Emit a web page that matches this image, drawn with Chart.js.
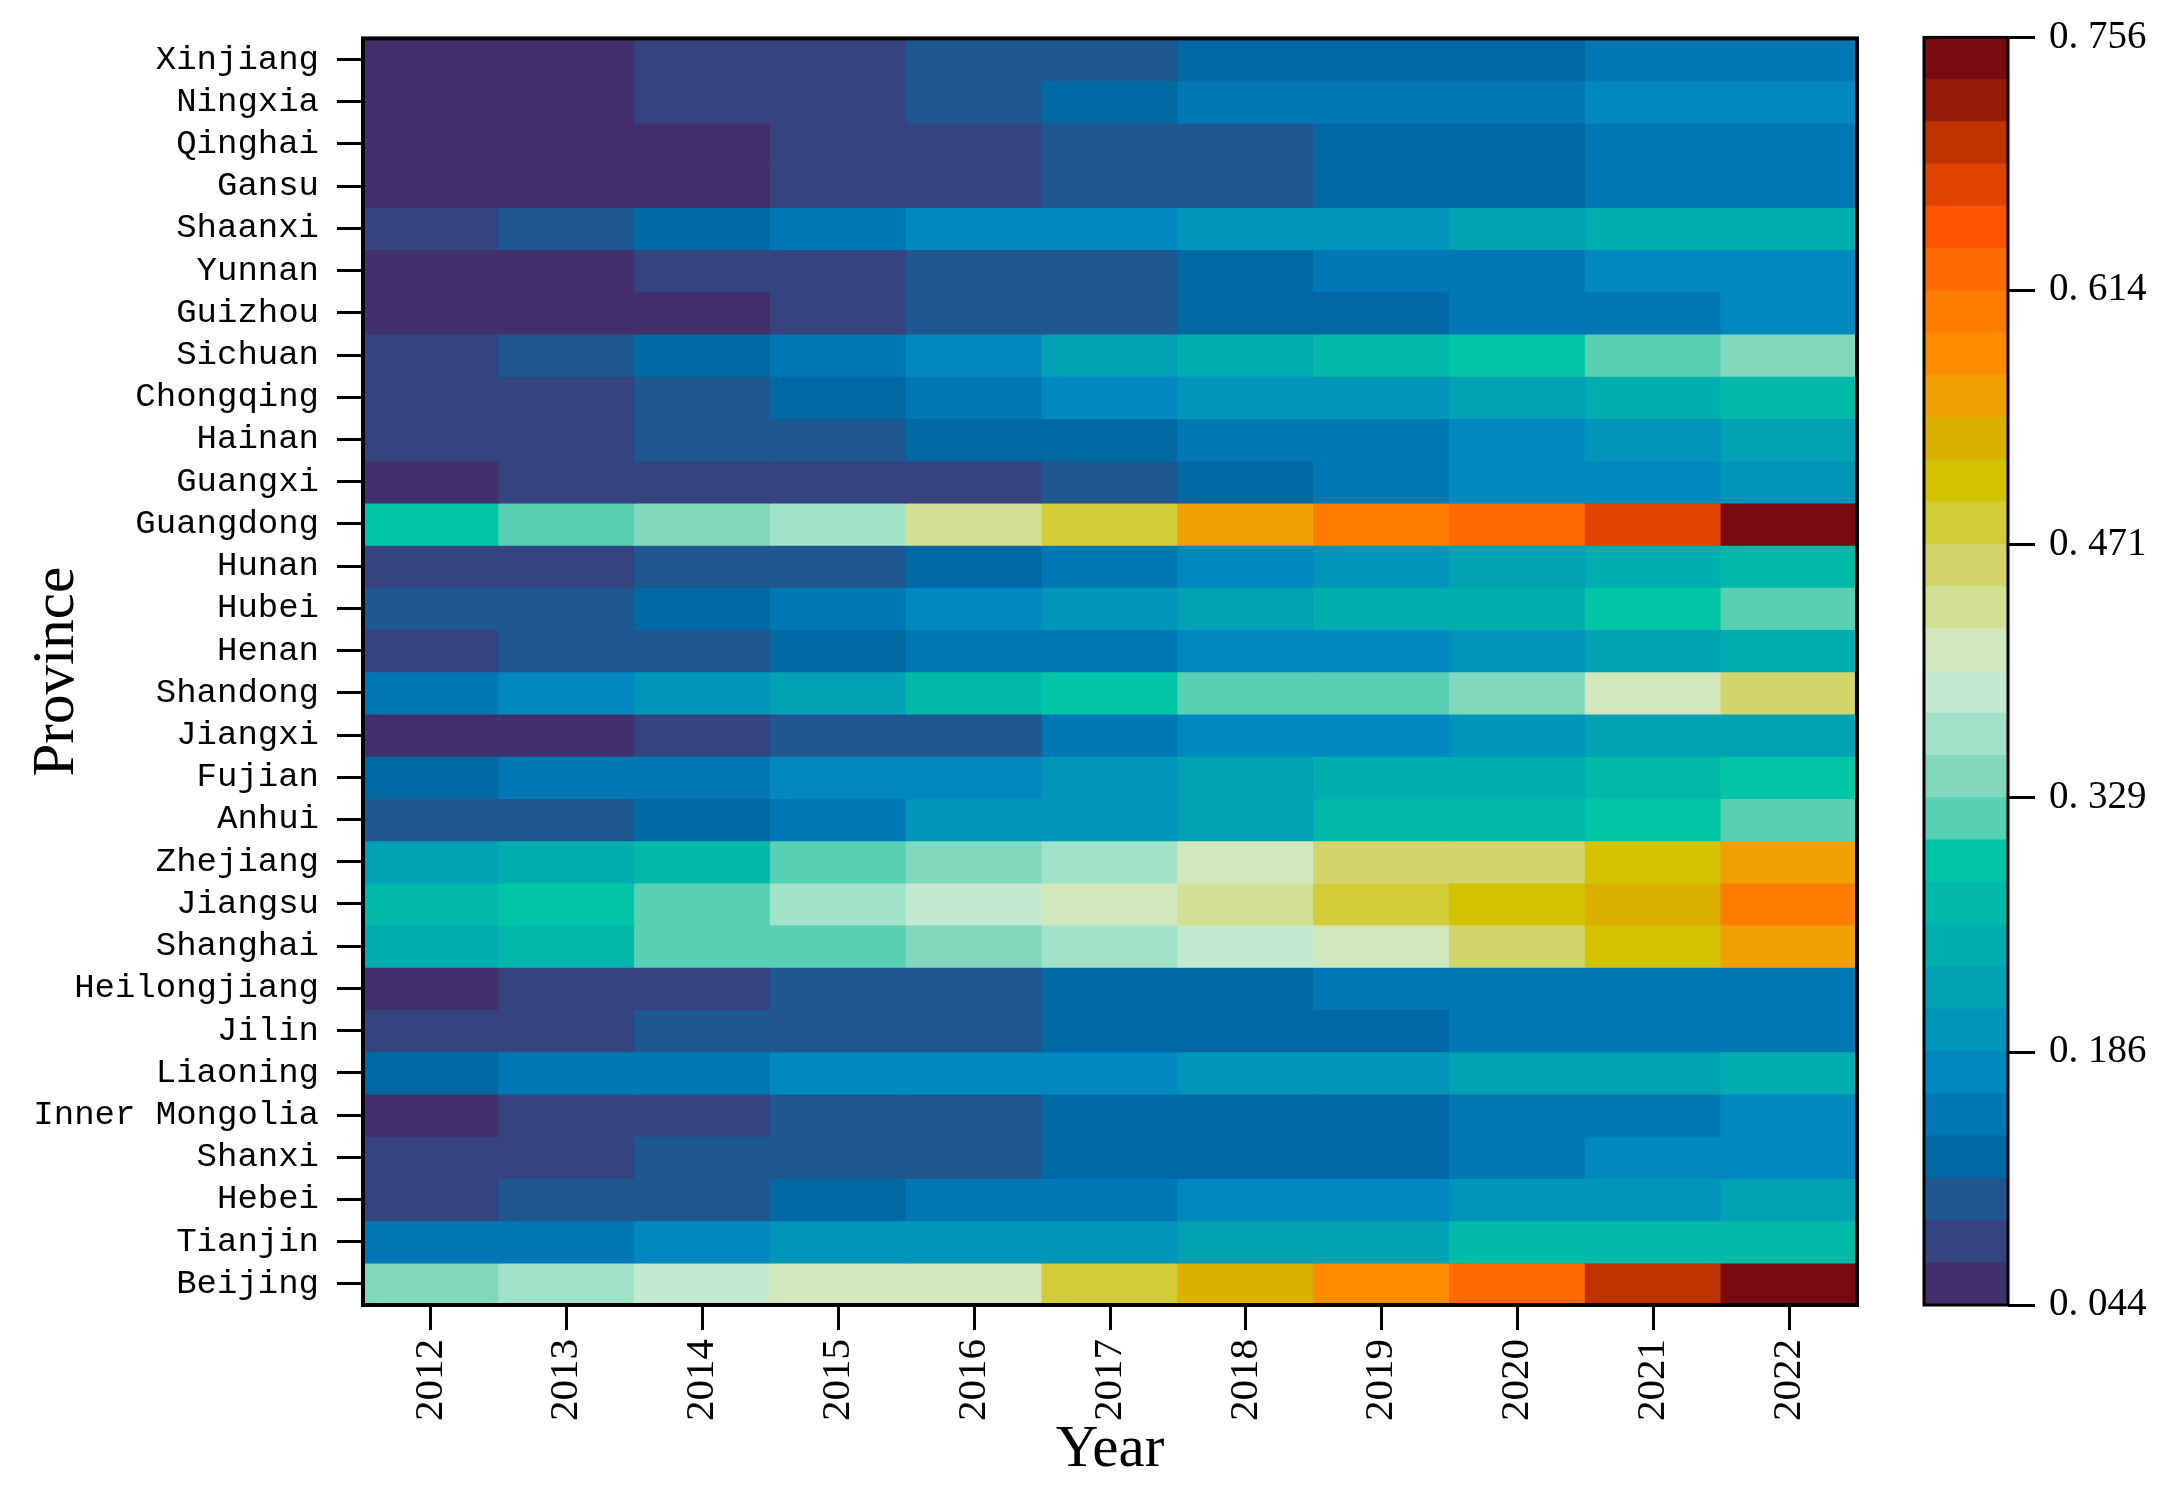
<!DOCTYPE html>
<html>
<head>
<meta charset="utf-8">
<title>Province heatmap 2012-2022</title>
<script src="https://cdn.jsdelivr.net/npm/chart.js@4.4.1/dist/chart.umd.min.js"></script>
<style>
    html, body { margin: 0; padding: 0; background: #fff; }
    #wrap { position: relative; width: 2170px; height: 1491px; }
    #heatCanvas { position: absolute; left: 0; top: 0; }
    #barCanvas { position: absolute; left: 1900px; top: 0; }
</style>
</head>
<body>
<div id="wrap">
    <canvas id="heatCanvas" width="1900" height="1491"></canvas>
    <canvas id="barCanvas" width="270" height="1491"></canvas>
</div>
<script>
const years = ['2012', '2013', '2014', '2015', '2016', '2017', '2018', '2019', '2020', '2021', '2022'];

// top row first
const provinces = [
    'Xinjiang', 'Ningxia', 'Qinghai', 'Gansu', 'Shaanxi', 'Yunnan', 'Guizhou', 'Sichuan',
    'Chongqing', 'Hainan', 'Guangxi', 'Guangdong', 'Hunan', 'Hubei', 'Henan', 'Shandong',
    'Jiangxi', 'Fujian', 'Anhui', 'Zhejiang', 'Jiangsu', 'Shanghai', 'Heilongjiang', 'Jilin',
    'Liaoning', 'Inner Mongolia', 'Shanxi', 'Hebei', 'Tianjin', 'Beijing'
];

// one row per province, one value per year
const values = [
    [0.058, 0.063, 0.079, 0.085, 0.101, 0.108, 0.124, 0.128, 0.133, 0.147, 0.153], // Xinjiang
    [0.055, 0.061, 0.077, 0.083, 0.104, 0.126, 0.145, 0.150, 0.155, 0.171, 0.178], // Ningxia
    [0.048, 0.053, 0.060, 0.074, 0.082, 0.099, 0.106, 0.122, 0.130, 0.146, 0.152], // Qinghai
    [0.044, 0.050, 0.057, 0.072, 0.080, 0.097, 0.104, 0.120, 0.127, 0.143, 0.149], // Gansu
    [0.084, 0.105, 0.129, 0.152, 0.173, 0.181, 0.196, 0.205, 0.224, 0.243, 0.251], // Shaanxi
    [0.052, 0.059, 0.076, 0.082, 0.098, 0.107, 0.123, 0.144, 0.154, 0.169, 0.176], // Yunnan
    [0.049, 0.056, 0.064, 0.078, 0.096, 0.103, 0.121, 0.131, 0.142, 0.151, 0.170], // Guizhou
    [0.081, 0.102, 0.125, 0.149, 0.172, 0.218, 0.245, 0.268, 0.294, 0.318, 0.342], // Sichuan
    [0.075, 0.086, 0.100, 0.124, 0.150, 0.174, 0.193, 0.201, 0.221, 0.244, 0.266], // Chongqing
    [0.078, 0.087, 0.097, 0.109, 0.121, 0.132, 0.146, 0.156, 0.177, 0.199, 0.220], // Hainan
    [0.062, 0.073, 0.080, 0.084, 0.088, 0.102, 0.126, 0.148, 0.168, 0.180, 0.197], // Guangxi
    [0.296, 0.315, 0.339, 0.363, 0.437, 0.482, 0.553, 0.601, 0.627, 0.675, 0.749], // Guangdong
    [0.077, 0.085, 0.099, 0.111, 0.128, 0.152, 0.176, 0.200, 0.223, 0.247, 0.271], // Hunan
    [0.096, 0.105, 0.127, 0.153, 0.175, 0.199, 0.222, 0.241, 0.250, 0.291, 0.319], // Hubei
    [0.083, 0.098, 0.110, 0.125, 0.144, 0.155, 0.171, 0.182, 0.201, 0.225, 0.248], // Henan
    [0.150, 0.175, 0.197, 0.219, 0.270, 0.294, 0.312, 0.322, 0.343, 0.410, 0.460], // Shandong
    [0.057, 0.065, 0.081, 0.100, 0.112, 0.147, 0.170, 0.179, 0.194, 0.217, 0.229], // Jiangxi
    [0.127, 0.143, 0.157, 0.169, 0.181, 0.202, 0.220, 0.242, 0.252, 0.270, 0.292], // Fujian
    [0.101, 0.110, 0.130, 0.149, 0.195, 0.206, 0.224, 0.264, 0.275, 0.296, 0.320], // Anhui
    [0.221, 0.244, 0.267, 0.316, 0.340, 0.365, 0.411, 0.456, 0.466, 0.506, 0.555], // Zhejiang
    [0.269, 0.292, 0.313, 0.362, 0.389, 0.413, 0.437, 0.483, 0.508, 0.530, 0.603], // Jiangsu
    [0.247, 0.271, 0.309, 0.321, 0.338, 0.366, 0.387, 0.414, 0.458, 0.505, 0.552], // Shanghai
    [0.060, 0.074, 0.086, 0.099, 0.108, 0.120, 0.131, 0.143, 0.148, 0.153, 0.158], // Heilongjiang
    [0.076, 0.084, 0.097, 0.104, 0.110, 0.122, 0.127, 0.134, 0.145, 0.150, 0.157], // Jilin
    [0.130, 0.146, 0.154, 0.168, 0.174, 0.180, 0.195, 0.203, 0.219, 0.227, 0.245], // Liaoning
    [0.054, 0.079, 0.089, 0.095, 0.106, 0.119, 0.125, 0.133, 0.144, 0.155, 0.173], // Inner Mongolia
    [0.073, 0.082, 0.096, 0.103, 0.112, 0.118, 0.126, 0.136, 0.149, 0.170, 0.179], // Shanxi
    [0.086, 0.099, 0.107, 0.129, 0.145, 0.156, 0.172, 0.181, 0.196, 0.206, 0.226], // Hebei
    [0.148, 0.155, 0.176, 0.192, 0.198, 0.207, 0.218, 0.228, 0.265, 0.272, 0.277], // Tianjin
    [0.336, 0.361, 0.386, 0.405, 0.418, 0.480, 0.529, 0.579, 0.624, 0.698, 0.756]  // Beijing
];

const cbTicks = [0.044, 0.186, 0.329, 0.471, 0.614, 0.756];
const cbTickLabels = ['0. 044', '0. 186', '0. 329', '0. 471', '0. 614', '0. 756'];

// 30 discrete levels, low -> high
const palette = [
    '#41306b', '#35437f', '#1f5790', '#0068a2', '#0078b5', '#0089c0',
    '#0096ba', '#00a2b4', '#00aeb0', '#00b9a8', '#00c6a8', '#58d0b4',
    '#82d8bc', '#a2e2c8', '#c2ead0', '#d2e8bc', '#d2e094', '#d2d46c',
    '#d2cc38', '#d2c200', '#dcb000', '#f0a000', '#ff8c00', '#ff7c00',
    '#ff6a00', '#ff5500', '#e04400', '#be3300', '#961c0a', '#780a10'
];

const monoFont = 'Liberation Mono';
const serifFont = 'Liberation Serif';

// black box round the plotting area
const framePlugin = {
    id: 'frame',
    afterDatasetsDraw(chart, args, opts) {
        const { ctx, chartArea: a } = chart;
        ctx.save();
        ctx.strokeStyle = '#000';
        ctx.lineWidth = opts.width || 3;
        ctx.strokeRect(a.left, a.top, a.right - a.left, a.bottom - a.top);
        ctx.restore();
    }
};

class ProvinceHeatmap {
    constructor() {
        this.cbMin = cbTicks[0];
        this.cbMax = cbTicks[cbTicks.length - 1];
        this.step = (this.cbMax - this.cbMin) / palette.length;
        this.buildHeatmap();
        this.buildColorbar();
    }

    colorFor(v) {
        const k = Math.floor((v - this.cbMin) / this.step);
        return palette[Math.min(palette.length - 1, Math.max(0, k))];
    }

    buildHeatmap() {
        const ctx = document.getElementById('heatCanvas').getContext('2d');
        // each province is a dataset of floating bars spanning its row
        const datasets = provinces.map((name, i) => ({
            label: name,
            data: values[i].map(() => [i, i + 1]),
            backgroundColor: values[i].map(v => this.colorFor(v)),
            borderWidth: 0,
            inflateAmount: 0.6,
            grouped: false,
            barPercentage: 1,
            categoryPercentage: 1
        }));

        this.heatChart = new Chart(ctx, {
            type: 'bar',
            data: { labels: years, datasets },
            options: {
                responsive: false,
                animation: false,
                events: [],
                layout: { padding: { left: 0, top: 33, right: 43, bottom: 0 } },
                plugins: {
                    legend: { display: false },
                    tooltip: { enabled: false },
                    frame: { width: 4 }
                },
                scales: {
                    x: {
                        type: 'category',
                        offset: true,
                        grid: { offset: false, drawOnChartArea: false, color: '#000', lineWidth: 3, tickLength: 25 },
                        border: { display: false },
                        ticks: {
                            color: '#000',
                            font: { family: serifFont, size: 41 },
                            minRotation: 90,
                            maxRotation: 90,
                            autoSkip: false,
                            padding: 9
                        },
                        title: {
                            display: true,
                            text: 'Year',
                            color: '#000',
                            font: { family: serifFont, size: 59 },
                            padding: { top: 5, bottom: 5 }
                        },
                        afterFit: s => { s.height = 186; }
                    },
                    y: {
                        type: 'linear',
                        min: 0,
                        max: provinces.length,
                        reverse: true,
                        afterBuildTicks: s => { s.ticks = provinces.map((p, i) => ({ value: i + 0.5 })); },
                        grid: { drawOnChartArea: false, color: '#000', lineWidth: 3, tickLength: 26 },
                        border: { display: false },
                        ticks: {
                            color: '#000',
                            font: { family: monoFont, size: 34 },
                            autoSkip: false,
                            padding: 18,
                            callback: (v, i) => provinces[i]
                        },
                        title: {
                            display: true,
                            text: 'Province',
                            color: '#000',
                            font: { family: serifFont, size: 59 },
                            padding: { top: 22, bottom: 0 }
                        },
                        afterFit: s => { s.width = 363; }
                    }
                }
            },
            plugins: [framePlugin]
        });
    }

    buildColorbar() {
        const ctx = document.getElementById('barCanvas').getContext('2d');
        const datasets = palette.map((color, k) => ({
            data: [[this.cbMin + k * this.step, this.cbMin + (k + 1) * this.step]],
            backgroundColor: color,
            borderWidth: 0,
            inflateAmount: 0.6,
            grouped: false,
            barPercentage: 1,
            categoryPercentage: 1
        }));

        this.barChart = new Chart(ctx, {
            type: 'bar',
            data: { labels: [''], datasets },
            options: {
                responsive: false,
                animation: false,
                events: [],
                layout: { padding: { left: 24, top: 33, right: 0, bottom: 186 } },
                plugins: {
                    legend: { display: false },
                    tooltip: { enabled: false },
                    frame: { width: 3 }
                },
                scales: {
                    x: { display: false },
                    y: {
                        position: 'right',
                        min: this.cbMin,
                        max: this.cbMax,
                        afterBuildTicks: s => { s.ticks = cbTicks.map(v => ({ value: v })); },
                        grid: { drawOnChartArea: false, color: '#000', lineWidth: 3, tickLength: 27 },
                        border: { display: false },
                        ticks: {
                            color: '#000',
                            font: { family: serifFont, size: 39 },
                            padding: 14,
                            callback: (v, i) => cbTickLabels[i]
                        },
                        afterFit: s => { s.width = 162; }
                    }
                }
            },
            plugins: [framePlugin]
        });
    }
}

document.addEventListener('DOMContentLoaded', () => {
    new ProvinceHeatmap();
});
</script>
</body>
</html>
